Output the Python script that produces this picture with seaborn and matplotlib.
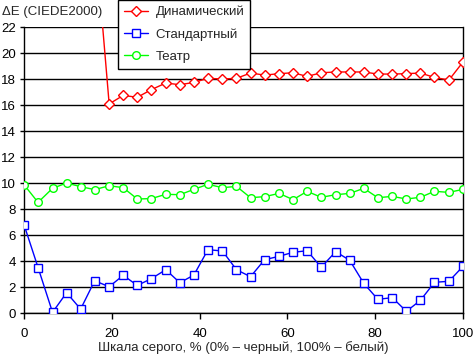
import numpy as np
import pandas as pd
import matplotlib
matplotlib.use("Agg")
import matplotlib.pyplot as plt
import seaborn as sns

# grey levels, % (32 steps)
x_vals = [0, 3.2, 6.5, 9.7, 12.9, 16.1, 19.4, 22.6, 25.8, 29.0, 32.3, 35.5, 38.7, 41.9, 45.2, 48.4,
          51.6, 54.8, 58.1, 61.3, 64.5, 67.7, 71.0, 74.2, 77.4, 80.6, 83.9, 87.1, 90.3, 93.5, 96.8, 100]

# Динамический: first points are far off the scale
dynamic = [np.nan, np.nan, np.nan, np.nan, np.nan, 29.3, 16.08, 16.74, 16.59, 17.18, 17.69, 17.56,
           17.74, 18.05, 18.0, 18.05, 18.46, 18.3, 18.41, 18.48, 18.2, 18.48, 18.54, 18.54, 18.54,
           18.38, 18.38, 18.41, 18.46, 18.12, 17.92, 19.31]
standard = [6.8, 3.5, 0.05, 1.56, 0.3, 2.48, 2.02, 2.9, 2.12, 2.64, 3.33, 2.33, 2.92, 4.87, 4.77, 3.33,
            2.79, 4.1, 4.36, 4.67, 4.79, 3.52, 4.72, 4.05, 2.28, 1.05, 1.18, 0.13, 0.97, 2.36, 2.44, 3.59]
theatre = [9.87, 8.51, 9.59, 10.0, 9.72, 9.49, 9.79, 9.64, 8.77, 8.8, 9.13, 9.1, 9.51, 9.9, 9.64, 9.74,
           8.87, 8.95, 9.2, 8.72, 9.36, 8.9, 9.1, 9.2, 9.59, 8.87, 8.97, 8.77, 8.9, 9.36, 9.28, 9.51]

series_names = ["Динамический", "Стандартный", "Театр"]
series_data = [dynamic, standard, theatre]
colors = ["#ff0000", "#0000ff", "#00ff00"]
markers = ["D", "s", "o"]
msizes = [5.5, 5.8, 5.5]

sns.set_theme(style="white")
plt.rcParams['font.family'] = ['Liberation Sans', 'DejaVu Sans']

fig = plt.figure(figsize=(4.73, 3.56), dpi=100)
ax = fig.add_axes([24 / 473, 1 - 313 / 356, (463 - 24) / 473, (313 - 27) / 356])

for name, vals, c, m, ms in zip(series_names, series_data, colors, markers, msizes):
    df = pd.DataFrame({"x": x_vals, "y": vals})
    sns.lineplot(data=df, x="x", y="y", ax=ax, color=c, lw=1, marker=m, markersize=ms,
                 markerfacecolor="white", markeredgecolor=c, markeredgewidth=1,
                 label=name, zorder=3)

ax.set_xlim(0, 100)
ax.set_ylim(0, 22)
ax.set_xticks(range(0, 101, 20))
ax.set_yticks(range(0, 23, 2))
ax.yaxis.grid(True, color="black", lw=1)
ax.xaxis.grid(False)
for s in ["left", "bottom", "right"]:
    ax.spines[s].set_visible(True)
    ax.spines[s].set_color("black")
    ax.spines[s].set_linewidth(1)
ax.spines["top"].set_visible(False)
ax.tick_params(axis="both", which="both", labelsize=9.5, colors="black", direction="out",
               width=1, bottom=True, left=True)
ax.tick_params(axis="x", length=4, pad=7)
ax.tick_params(axis="y", length=3, pad=3)
ax.set_xlabel("")
ax.set_ylabel("")

fig.text(243 / 473, 1 - 348 / 356, "Шкала серого, % (0% – черный, 100% – белый)",
         fontsize=9.5, va="center", ha="center")
fig.text(2 / 473, 1 - 12 / 356, "ΔE (CIEDE2000)", fontsize=9.5, va="center", ha="left")

leg = ax.legend(loc="upper left", bbox_to_anchor=(118 / 473, 1.0), bbox_transform=fig.transFigure,
                fontsize=9.5, frameon=True, fancybox=False, framealpha=1, edgecolor="black",
                borderpad=0.45, handlelength=1.8, handletextpad=0.6, labelspacing=0.75,
                borderaxespad=0)
leg.get_frame().set_linewidth(1)
leg.set_zorder(5)

fig.savefig("out.png", dpi=100)
